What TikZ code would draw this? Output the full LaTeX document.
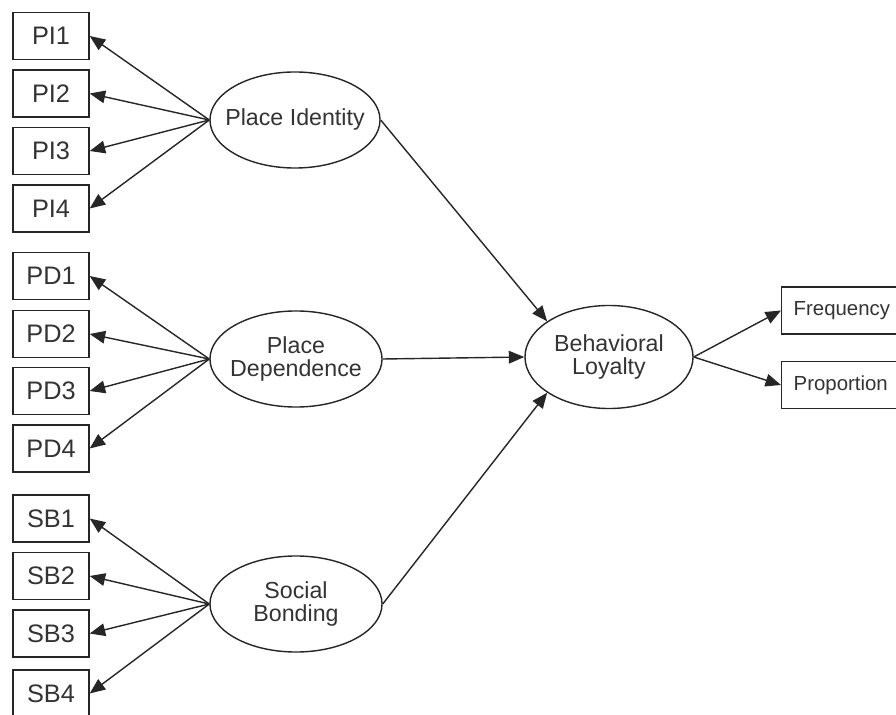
\documentclass[tikz,border=0pt]{standalone}
\usepackage{fontspec}
\setmainfont{Liberation Sans}
\usetikzlibrary{shapes.geometric,arrows.meta}
\begin{document}
\begin{tikzpicture}[x=0.025cm,y=-0.025cm,
    ind/.style={draw=black!85, line width=1pt, minimum width=1.9cm, minimum height=1.175cm, inner sep=0pt, text=black!80, font=\fontsize{18}{19}\selectfont},
    outd/.style={draw=black!85, line width=1pt, text width=3cm, align=left, inner xsep=0.3cm, minimum height=1.175cm, inner ysep=0pt, text=black!80, font=\fontsize{14.5}{16}\selectfont},
    lat/.style={draw=black!85, ellipse, line width=1pt, inner xsep=-0.3cm, inner ysep=0pt, align=center, text=black!80, font=\fontsize{16.5}{17}\selectfont},
    path/.style={draw=black!85, line width=1pt, -{Triangle[length=11pt,width=9pt]}}]
      \useasboundingbox (0,0) rectangle (896,715);
      \clip (0,0) rectangle (896,715);
      % indicators
      \node[ind] (PI1) at (51,36) {PI1};
      \node[ind] (PI2) at (51,93.5) {PI2};
      \node[ind] (PI3) at (51,151) {PI3};
      \node[ind] (PI4) at (51,208.5) {PI4};
      \node[ind] (PD1) at (51,276) {PD1};
      \node[ind] (PD2) at (51,334) {PD2};
      \node[ind] (PD3) at (51,391) {PD3};
      \node[ind] (PD4) at (51,448.5) {PD4};
      \node[ind] (SB1) at (51,518.5) {SB1};
      \node[ind] (SB2) at (51,576) {SB2};
      \node[ind] (SB3) at (51,633.5) {SB3};
      \node[ind] (SB4) at (51,693.5) {SB4};
      % latent variables
      \node[lat, minimum width=4.25cm, minimum height=2.4cm] (PI) at (295,120) {Place Identity};
      \node[lat, minimum width=4.3cm, minimum height=2.4cm] (PD) at (296,359) {Place\\Dependence};
      \node[lat, minimum width=4.3cm, minimum height=2.4cm] (SB) at (296,604) {Social\\Bonding};
      \node[lat, minimum width=4.2cm, minimum height=2.575cm] (BL) at (609,357) {Behavioral\\Loyalty};
      \node[outd, anchor=west] (FR) at (781,310.5) {Frequency};
      \node[outd, anchor=west] (PR) at (781,385) {Proportion};
      % loadings
      \draw[path] (PI.west) -- (PI1.east);
      \draw[path] (PI.west) -- (PI2.east);
      \draw[path] (PI.west) -- (PI3.east);
      \draw[path] (PI.west) -- (PI4.east);
      \draw[path] (PD.west) -- (PD1.east);
      \draw[path] (PD.west) -- (PD2.east);
      \draw[path] (PD.west) -- (PD3.east);
      \draw[path] (PD.west) -- (PD4.east);
      \draw[path] (SB.west) -- (SB1.east);
      \draw[path] (SB.west) -- (SB2.east);
      \draw[path] (SB.west) -- (SB3.east);
      \draw[path] (SB.west) -- (SB4.east);
      % structural paths
      \draw[path] (PI.east) -- (BL.150);
      \draw[path] (PD.east) -- (BL.west);
      \draw[path] (SB.east) -- (BL.210);
      \draw[path] (BL.east) -- (FR.west);
      \draw[path] (BL.east) -- (PR.west);
\end{tikzpicture}
\end{document}
